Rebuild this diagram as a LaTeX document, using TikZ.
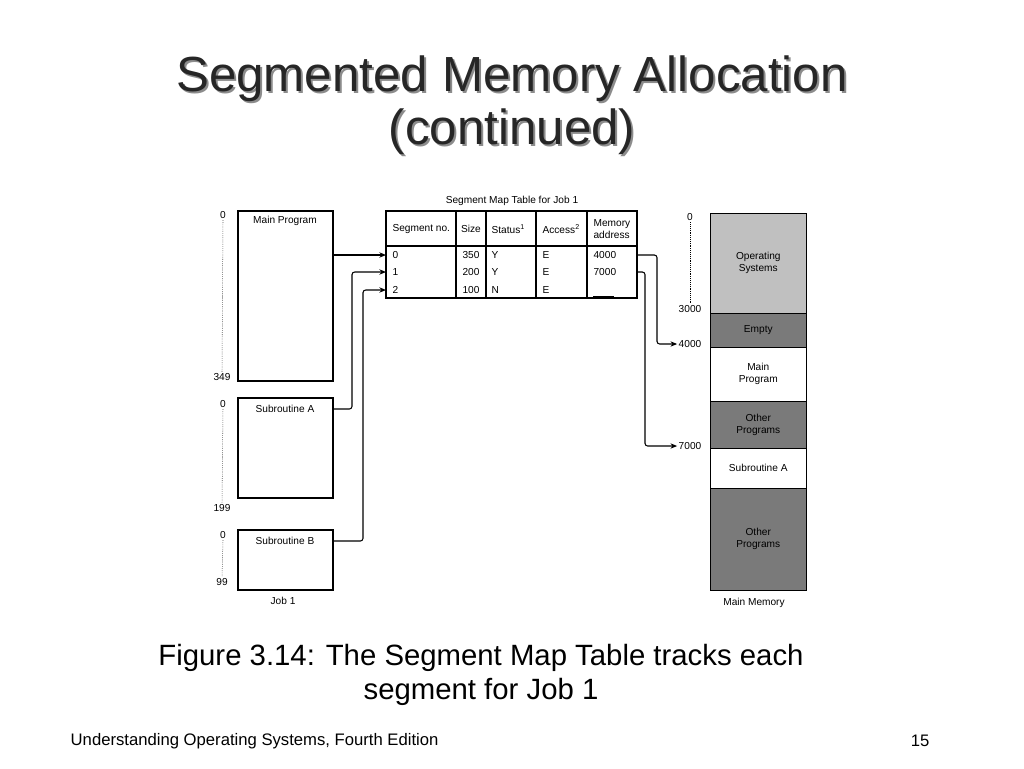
\documentclass[tikz,border=0pt]{standalone}
\usepackage{fontspec}
\setmainfont{Liberation Sans}
\usetikzlibrary{arrows.meta}
\definecolor{osgray}{HTML}{C0C0C0}
\definecolor{dkgray}{HTML}{7A7A7A}
\tikzset{
  small/.style={font=\fontsize{7.6}{9}\selectfont, inner sep=1pt},
  mem/.style={draw, minimum width=96*0.75pt, font=\fontsize{7.6}{9}\selectfont, align=center, inner sep=0pt},
  link/.style={thick, -{Stealth[length=5pt,width=4pt]}, rounded corners=2pt},
  ruler/.style={densely dotted},
  titlefont/.style={font=\fontsize{37}{40}\selectfont, align=center},
}
\begin{document}
\begin{tikzpicture}[x=0.75pt,y=-0.75pt]
\useasboundingbox (0,0) rectangle (1024,768);
% title with shadow
\node[titlefont, text=black!45] (tshadow) at (514,107)
  {Segmented Memory Allocation\\(continued)};
\node[titlefont, text=black!85] (title) at (512,105)
  {Segmented Memory Allocation\\(continued)};
% job 1 segments
\draw[thick] (238,211) rectangle (333,381);
\node[small] (mp) at (285,221) {Main Program};
\draw[thick] (238,398) rectangle (333,498);
\node[small] (sa) at (285,409) {Subroutine A};
\draw[thick] (238,530) rectangle (333,590);
\node[small] (sb) at (285,541) {Subroutine B};
\coordinate (mpR) at (333,255);
\coordinate (saR) at (333,409);
\coordinate (sbR) at (333,541);
\node[small] (job) at (283,601) {Job 1};
% rulers
\node[small] (z1) at (223,215) {0};
\node[small] (e1) at (222,377) {349};
\draw[ruler] (z1.south) -- (e1.north);
\node[small] (z2) at (223,404) {0};
\node[small] (e2) at (222,508) {199};
\draw[ruler] (z2.south) -- (e2.north);
\node[small] (z3) at (223,535) {0};
\node[small] (e3) at (222,582) {99};
\draw[ruler] (z3.south) -- (e3.north);
% table
\node[small] (tt) at (512,201) {Segment Map Table for Job 1};
\draw[thick] (386,211) rectangle (637,298);
\draw[thick] (386,246) -- (637,246);
\foreach \x in {456,486,536,587} \draw[thick] (\x,211) -- (\x,298);
\node[small,anchor=west] at (391,229) {Segment no.};
\node[small] at (471,229) {Size};
\node[small,anchor=west] at (490,229) {Status$^{\mathrm{1}}$};
\node[small,anchor=west] at (541,229) {Access$^{\mathrm{2}}$};
\node[small,anchor=west,align=left] at (592,229) {Memory\\address};
\foreach \y/\s/\z/\st/\ad in {255/0/350/Y/4000, 272/1/200/Y/7000, 290/2/100/N/}{
  \node[small,anchor=west] at (391,\y) {\s};
  \node[small] at (471,\y) {\z};
  \node[small,anchor=west] at (490,\y) {\st};
  \node[small,anchor=west] at (541,\y) {E};
  \node[small,anchor=west] at (592,\y) {\ad};
}
\draw (593,296) -- (614,296);
\coordinate (r0) at (386,255);
\coordinate (r1) at (386,272);
\coordinate (r2) at (386,290);
\coordinate (a0) at (637,255);
\coordinate (a1) at (637,272);
% memory
\node[mem,fill=osgray,minimum height=100*0.75pt,anchor=north west] (os) at (710,213) {Operating\\Systems};
\node[mem,fill=dkgray,minimum height=34*0.75pt,anchor=north west] (em) at (710,313) {Empty};
\node[mem,fill=white,minimum height=54*0.75pt,anchor=north west] (mm) at (710,347) {Main\\Program};
\node[mem,fill=dkgray,minimum height=47*0.75pt,anchor=north west] (o1) at (710,401) {Other\\Programs};
\node[mem,fill=white,minimum height=40*0.75pt,anchor=north west] (ms) at (710,448) {Subroutine A};
\node[mem,fill=dkgray,minimum height=102*0.75pt,anchor=north west] (o2) at (710,488) {Other\\Programs};
\node[small] (mml) at (754,603) {Main Memory};
\node[small] (m0) at (690,217) {0};
\node[small] (m3) at (690,309) {3000};
\draw[ruler] (m0.south) -- (m3.north);
\node[small] (m4) at (690,344) {4000};
\node[small] (m7) at (690,446) {7000};
% connectors
\draw[link] (mpR) -- (r0);
\draw[link] (saR) -| (352,272) -- (r1);
\draw[link] (sbR) -| (363,290) -- (r2);
\draw[link] (a0) -| (657,344) -- (m4.west);
\draw[link] (a1) -| (645,446) -- (m7.west);
% caption
\node[font=\fontsize{22}{25.5}\selectfont, align=center] (cap) at (481,675)
  {Figure 3.14: The Segment Map Table tracks each\\segment for Job 1};
\node[font=\fontsize{12.5}{14}\selectfont, anchor=west] (foot) at (66,741) {Understanding Operating Systems, Fourth Edition};
\node[font=\fontsize{12.5}{14}\selectfont, anchor=east] (pg) at (934,741) {15};
\end{tikzpicture}
\end{document}
